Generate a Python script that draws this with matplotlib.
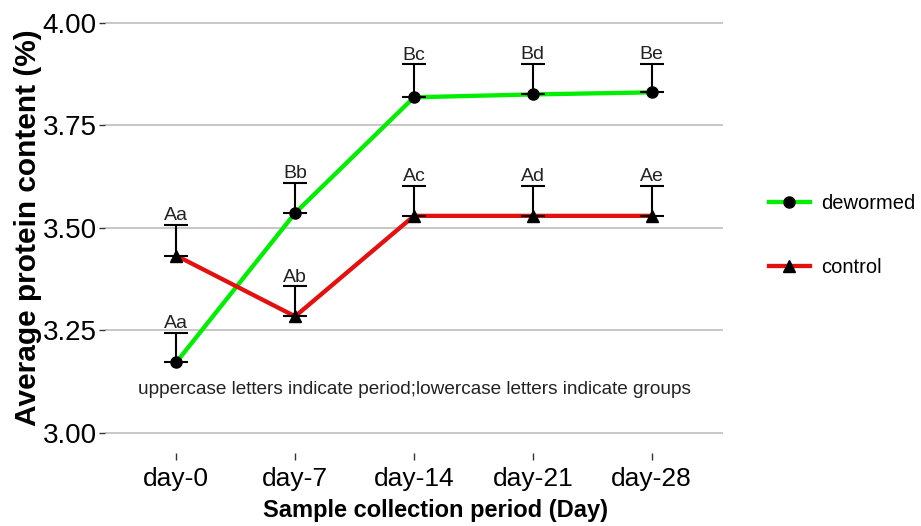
import matplotlib.pyplot as plt

plt.rcParams['font.family'] = ['Liberation Sans', 'DejaVu Sans']

days = ["day-0", "day-7", "day-14", "day-21", "day-28"]

dewormed_mean = [3.172, 3.536, 3.818, 3.825, 3.830]
dewormed_err = [0.072, 0.074, 0.080, 0.074, 0.070]
dewormed_labels = ["Aa", "Bb", "Bc", "Bd", "Be"]

control_mean = [3.432, 3.284, 3.529, 3.529, 3.529]
control_err = [0.075, 0.073, 0.073, 0.073, 0.073]
control_labels = ["Aa", "Ab", "Ac", "Ad", "Ae"]

note = "uppercase letters indicate period;lowercase letters indicate groups"

fig = plt.figure(figsize=(9.21, 5.26), dpi=100)
ax = fig.add_axes([0.114, 0.138, 0.671, 0.858])

x = list(range(len(days)))

series = [
    ("dewormed", dewormed_mean, dewormed_err, dewormed_labels, "#00EE00", "o"),
    ("control", control_mean, control_err, control_labels, "#E41010", "^"),
]

for name, mean, err, labels, color, marker in series:
    ax.errorbar(x, mean, yerr=[[0] * len(mean), err], fmt="none",
                ecolor="black", elinewidth=1.5, capsize=8.3, capthick=1.5,
                zorder=3)
    ax.plot(x, mean, color=color, linewidth=3.1, zorder=2)
    ax.plot(x, mean, linestyle="none", marker=marker, color="black",
            markersize=8, zorder=4)
    # legend proxy
    ax.plot([], [], color=color, linewidth=3.1, marker=marker,
            markerfacecolor="black", markeredgecolor="black",
            markersize=8, label=name)
    for xi, m, e, lab in zip(x, mean, err, labels):
        ax.text(xi, m + e + 0.002, lab, ha="center", va="bottom",
                fontsize=14, color="#222222")

ax.text(2, 3.105, note, ha="center", va="center", fontsize=13.7, color="#222222")

ax.set_xlim(-0.6, len(days) - 0.4)
ax.set_ylim(2.95, 4.05)
ax.set_yticks([3.00, 3.25, 3.50, 3.75, 4.00])
ax.set_yticklabels(["3.00", "3.25", "3.50", "3.75", "4.00"])
ax.set_xticks(x)
ax.set_xticklabels(days)

ax.grid(axis="y", color="#BEBEBE", linewidth=1.2)
ax.set_axisbelow(True)
for s in ax.spines.values():
    s.set_visible(False)

ax.tick_params(axis="y", length=4, width=1, color="#333333", labelsize=20,
               pad=2, labelcolor="black")
ax.tick_params(axis="x", length=5, width=1, color="#333333", labelsize=19,
               pad=5, labelcolor="black")

ax.set_xlabel("Sample collection period (Day)", fontsize=17, fontweight="bold")
ax.xaxis.set_label_coords(0.534, -0.1)
ax.set_ylabel("Average protein content (%)", fontsize=21.5, fontweight="bold",
              labelpad=0.5)

ax.legend(loc="center left", bbox_to_anchor=(1.0455, 0.483), frameon=False,
          fontsize=14.5, handlelength=2.0, handletextpad=0.6,
          labelspacing=2.2)

fig.savefig("out.png", dpi=100)
